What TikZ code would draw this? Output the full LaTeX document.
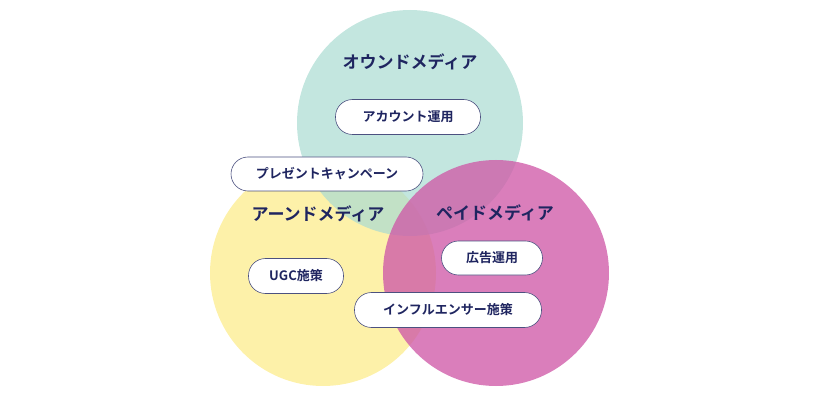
\documentclass[tikz,border=0pt]{standalone}
\usepackage{fontspec}
\newfontfamily\jp{Noto Sans CJK JP Bold}
\definecolor{navy}{HTML}{1F2560}
\definecolor{tealc}{HTML}{A9DBD2}
\definecolor{yelc}{HTML}{FDEE9A}
\definecolor{pinkc}{HTML}{CF5AA8}
\tikzset{
 pill/.style={draw=navy!80,line width=0.6pt,fill=white,rounded corners=17pt,minimum height=35pt,font=\jp\fontsize{13}{13}\selectfont,text=navy,inner xsep=12pt},
 ttl/.style={font=\jp\fontsize{17}{17}\selectfont,text=navy}
}
\begin{document}
\begin{tikzpicture}[x=1pt,y=-1pt]
\useasboundingbox (0,0) rectangle (820,401);
\fill[yelc,opacity=0.85] (323,273) circle (113);
\fill[tealc,opacity=0.7] (410,123) circle (113);
\fill[pinkc,opacity=0.78] (496,273) circle (113);
\node[ttl] (t1) at (410,62) {オウンドメディア};
\node[ttl] (t2) at (318,214) {アーンドメディア};
\node[ttl] (t3) at (495,213) {ペイドメディア};
\node[pill,minimum width=145pt] (p1) at (408,117) {アカウント運用};
\node[pill,minimum width=192pt,minimum height=34pt] (p2) at (327,174) {プレゼントキャンペーン};
\node[pill,minimum width=101pt,minimum height=34pt] (p3) at (492,258) {広告運用};
\node[pill,minimum width=95pt] (p4) at (296,276) {UGC施策};
\node[pill,minimum width=187pt] (p5) at (448,310) {インフルエンサー施策};
\end{tikzpicture}
\end{document}
